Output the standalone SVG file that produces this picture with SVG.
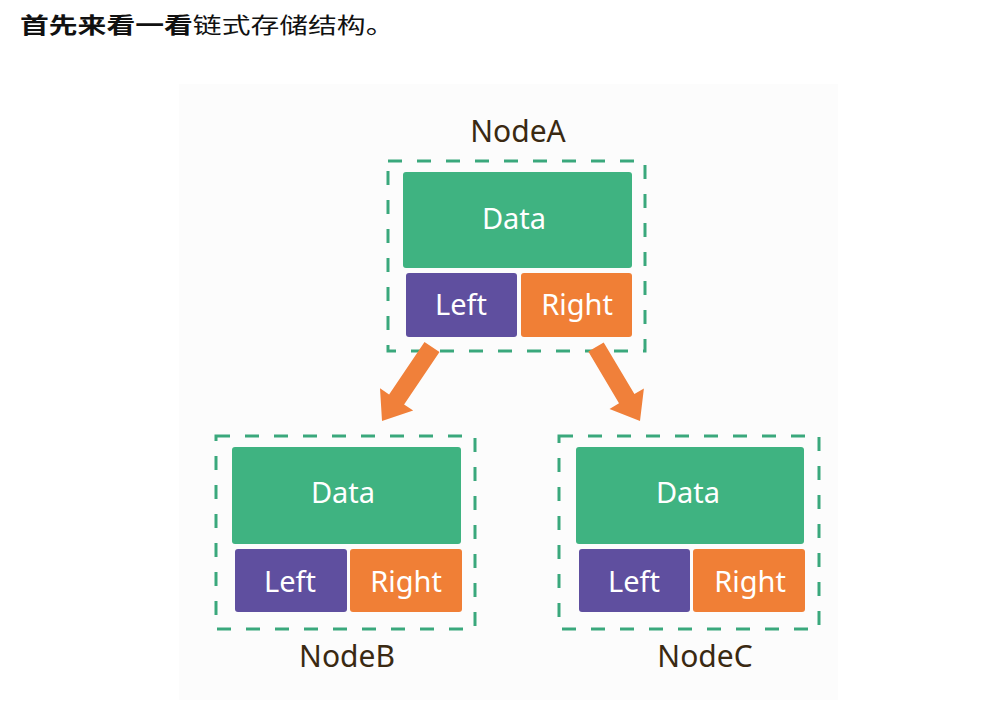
<svg xmlns="http://www.w3.org/2000/svg" width="990" height="703" viewBox="0 0 990 703">
<style>
.title{font-family:"Noto Sans CJK SC","Noto Sans",sans-serif;font-size:22px;fill:#111}
.frame{fill:none;stroke:#3aa87c;stroke-width:3;stroke-dasharray:14 15}
.data{fill:#3fb381}
.left{fill:#5f4f9f}
.right{fill:#f07f36}
.in{font-family:"Noto Sans",sans-serif;font-size:29px;fill:#fff;text-anchor:middle}
.lbl{font-family:"Noto Sans",sans-serif;font-size:30px;fill:#3a2912;text-anchor:middle}
.arrow{fill:#f0803a}
</style>
<rect width="990" height="703" fill="#fff"/>
<rect x="179" y="84" width="659" height="616" fill="#fcfcfc"/>
<text class="title" transform="translate(20,33) scale(1.31,1)"><tspan font-weight="bold">首先来看一看</tspan><tspan>链式存储结构。</tspan></text>
<g id="nodeA">
<rect class="frame" x="388" y="161" width="257" height="190"/>
<rect class="data" x="403" y="172" width="229" height="96" rx="3"/>
<rect class="left" x="406" y="273" width="111" height="64" rx="3"/>
<rect class="right" x="521" y="273" width="111" height="64" rx="3"/>
<text class="in" x="514" y="229">Data</text>
<text class="in" x="461" y="315">Left</text>
<text class="in" x="577" y="315">Right</text>
<text class="lbl" x="518" y="142">NodeA</text>
</g>
<g id="nodeB">
<rect class="frame" x="216" y="436" width="259" height="193"/>
<rect class="data" x="232" y="447" width="229" height="97" rx="3"/>
<rect class="left" x="235" y="549" width="112" height="63" rx="3"/>
<rect class="right" x="350" y="549" width="112" height="63" rx="3"/>
<text class="in" x="343" y="503">Data</text>
<text class="in" x="290" y="592">Left</text>
<text class="in" x="406" y="592">Right</text>
<text class="lbl" x="347" y="667">NodeB</text>
</g>
<g id="nodeC">
<rect class="frame" x="559" y="436" width="260" height="193"/>
<rect class="data" x="576" y="447" width="228" height="97" rx="3"/>
<rect class="left" x="579" y="549" width="111" height="63" rx="3"/>
<rect class="right" x="693" y="549" width="112" height="63" rx="3"/>
<text class="in" x="688" y="503">Data</text>
<text class="in" x="634" y="592">Left</text>
<text class="in" x="750" y="592">Right</text>
<text class="lbl" x="705" y="667">NodeC</text>
</g>
<g id="connectors">
<polygon class="arrow" points="439.5,352.0 404.1,404.4 413.2,410.6 382,421 380.0,388.2 389.1,394.4 424.5,342.0"/>
<polygon class="arrow" points="603.7,342.4 634.4,394.1 643.9,388.5 640,421 609.5,408.9 619.0,403.3 588.3,351.6"/>
</g>
</svg>
